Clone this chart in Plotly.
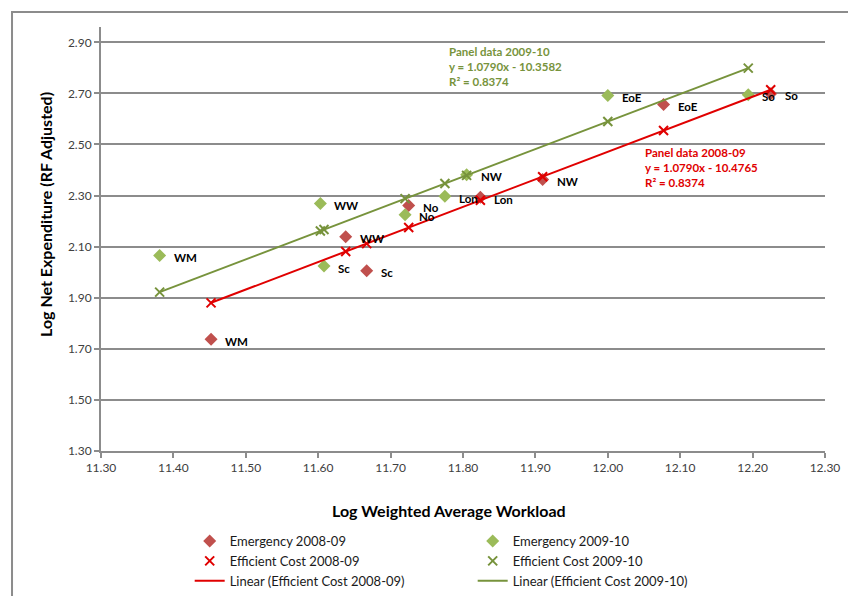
import plotly.graph_objects as go

# Regional emergency spend vs workload (log scale values)
regions = ["WM", "WW", "Sc", "No", "Lon", "NW", "EoE", "So"]

# 2008-09
x_0809 = [11.452, 11.638, 11.667, 11.725, 11.824, 11.910, 12.077, 12.225]
emerg_0809 = [1.738, 2.139, 2.006, 2.261, 2.293, 2.363, 2.657, 2.699]
effic_0809 = [1.880, 2.081, 2.112, 2.175, 2.282, 2.374, 2.555, 2.714]

# 2009-10
x_0910 = [11.381, 11.603, 11.608, 11.720, 11.775, 11.805, 12.000, 12.194]
emerg_0910 = [2.065, 2.269, 2.024, 2.225, 2.297, 2.382, 2.692, 2.695]
effic_0910 = [1.922, 2.161, 2.167, 2.288, 2.347, 2.379, 2.590, 2.799]

# Linear trendline coefficients (slope, intercept, R²)
fit_0809 = (1.0790, -10.4765, 0.8374)
fit_0910 = (1.0790, -10.3582, 0.8374)

x_ticks = [11.30, 11.40, 11.50, 11.60, 11.70, 11.80, 11.90, 12.00, 12.10, 12.20, 12.30]
y_ticks = [1.30, 1.50, 1.70, 1.90, 2.10, 2.30, 2.50, 2.70, 2.90]

RED_DIAMOND = "#C0504D"
GREEN_DIAMOND = "#9BBB59"
RED_LINE = "#E00000"
GREEN_LINE = "#77933C"
GRID = "#8C8C8C"
FONT = "Lato"


def trend(xs, fit):
    lo, hi = min(xs), max(xs)
    return [lo, hi], [fit[0] * lo + fit[1], fit[0] * hi + fit[1]]


fig = go.Figure()

fig.add_trace(go.Scatter(
    x=x_0809, y=emerg_0809, mode="markers", name="Emergency 2008-09",
    marker=dict(symbol="diamond", size=10, color=RED_DIAMOND),
))
fig.add_trace(go.Scatter(
    x=x_0910, y=emerg_0910, mode="markers", name="Emergency 2009-10",
    marker=dict(symbol="diamond", size=10, color=GREEN_DIAMOND),
))
fig.add_trace(go.Scatter(
    x=x_0809, y=effic_0809, mode="markers", name="Efficient Cost 2008-09",
    marker=dict(symbol="x-thin", size=9, line=dict(color=RED_LINE, width=2)),
))
fig.add_trace(go.Scatter(
    x=x_0910, y=effic_0910, mode="markers", name="Efficient Cost 2009-10",
    marker=dict(symbol="x-thin", size=9, line=dict(color=GREEN_LINE, width=2)),
))
tx, ty = trend(x_0809, fit_0809)
fig.add_trace(go.Scatter(
    x=tx, y=ty, mode="lines", name="Linear (Efficient Cost 2008-09)",
    line=dict(color=RED_LINE, width=2),
))
tx, ty = trend(x_0910, fit_0910)
fig.add_trace(go.Scatter(
    x=tx, y=ty, mode="lines", name="Linear (Efficient Cost 2009-10)",
    line=dict(color=GREEN_LINE, width=2),
))

annotations = []
# region labels beside each emergency point
for xs, ys in ((x_0809, emerg_0809), (x_0910, emerg_0910)):
    for name, xv, yv in zip(regions, xs, ys):
        annotations.append(dict(
            x=xv, y=yv, text=name, showarrow=False,
            xanchor="left", yanchor="middle", xshift=12, yshift=-2,
            font=dict(family=FONT, size=11.5, color="#000000", weight="bold"),
        ))


def eq_text(label, fit):
    return (f"{label}<br>y = {fit[0]:.4f}x - {abs(fit[1]):.4f}"
            f"<br>R² = {fit[2]:.4f}")


annotations.append(dict(
    x=11.778, y=2.898, xref="x", yref="y", showarrow=False,
    xanchor="left", yanchor="top", align="left",
    text=eq_text("Panel data 2009-10", fit_0910),
    font=dict(family=FONT, size=11.5, color=GREEN_LINE, weight="bold"),
))
annotations.append(dict(
    x=12.049, y=2.502, xref="x", yref="y", showarrow=False,
    xanchor="left", yanchor="top", align="left",
    text=eq_text("Panel data 2008-09", fit_0809),
    font=dict(family=FONT, size=11.5, color=RED_LINE, weight="bold"),
))

# axis titles
annotations.append(dict(
    x=0.4807, y=-0.141, xref="paper", yref="paper", showarrow=False,
    xanchor="center", yanchor="middle",
    text="<b>Log Weighted Average Workload</b>",
    font=dict(family=FONT, size=16, color="#000000"),
))
annotations.append(dict(
    x=-0.076, y=0.559, xref="paper", yref="paper", showarrow=False,
    xanchor="center", yanchor="middle", textangle=-90,
    text="<b>Log Net Expenditure (RF Adjusted)</b>",
    font=dict(family=FONT, size=16, color="#000000"),
))

fig.update_layout(
    width=848, height=596,
    margin=dict(l=101, r=23, t=27, b=145, autoexpand=False),
    paper_bgcolor="white", plot_bgcolor="white",
    font=dict(family=FONT, size=11, color="#404040"),
    showlegend=True,
    legend=dict(
        orientation="h", x=0.1225, xanchor="left", y=-0.177, yanchor="top",
        entrywidth=238, entrywidthmode="pixels",
        font=dict(family=FONT, size=13, color="#1a1a1a"),
        tracegroupgap=0, itemwidth=30,
    ),
    annotations=annotations,
    shapes=[dict(
        type="rect", xref="paper", yref="paper",
        x0=-0.1229, x1=1.3, y0=-0.6, y1=1.0354,
        line=dict(color=GRID, width=2), fillcolor="rgba(0,0,0,0)", layer="below",
    )],
)

fig.update_xaxes(
    range=[11.30, 12.30], tickvals=x_ticks, ticktext=[f"{v:.2f}" for v in x_ticks],
    showgrid=False, zeroline=False,
    showline=True, linecolor=GRID, linewidth=2,
    ticks="outside", ticklen=5, tickwidth=1.5, tickcolor=GRID,
    tickfont=dict(family=FONT, size=12, color="#404040"),
)
fig.update_yaxes(
    range=[1.30, 2.96], tickvals=y_ticks, ticktext=[f"{v:.2f}" for v in y_ticks],
    showgrid=True, gridcolor=GRID, gridwidth=2, zeroline=False,
    showline=True, linecolor=GRID, linewidth=2,
    ticks="outside", ticklen=5, tickwidth=1.5, tickcolor=GRID,
    tickfont=dict(family=FONT, size=12, color="#404040"),
)

fig.write_html("out.html")
